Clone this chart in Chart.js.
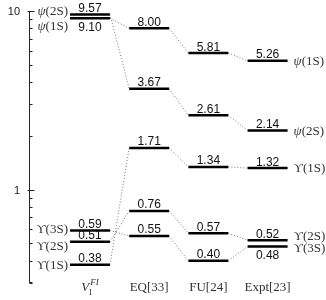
<!DOCTYPE html>
<html>
<head>
<meta charset="utf-8">
<script src="https://cdn.jsdelivr.net/npm/chart.js@4.4.1/dist/chart.umd.min.js"></script>
<style>
  html, body { margin: 0; padding: 0; background: #fff; }
  #wrap { width: 326px; height: 300px; }
</style>
</head>
<body>
<div id="wrap"><canvas id="chart"></canvas></div>
<script>
// columns (models) and level values
const columns = ['V1FI', 'EQ[33]', 'FU[24]', 'Expt[23]'];
const psi1S = [9.10, 8.00, 5.81, 5.26];
const psi2S = [9.57, 3.67, 2.61, 2.14];
const ups1S = [0.38, 1.71, 1.34, 1.32];
const ups2S = [0.51, 0.76, 0.57, 0.52];
const ups3S = [0.59, 0.55, 0.40, 0.48];
const majorTicks = [1, 10];
const minorTicks = [0.3, 0.4, 0.5, 0.6, 0.7, 0.8, 0.9, 2, 3, 4, 5, 6, 7, 8, 9];

const series = [
  { key: 'psi1S', psi: true,  name: '(1S)', values: psi1S },
  { key: 'psi2S', psi: true,  name: '(2S)', values: psi2S },
  { key: 'ups1S', psi: false, name: '(1S)', values: ups1S },
  { key: 'ups2S', psi: false, name: '(2S)', values: ups2S },
  { key: 'ups3S', psi: false, name: '(3S)', values: ups3S }
];

// layout tweaks (pixels), kept apart from the data
const HALF = 0.338;
const below = { psi1S: [0], ups3S: [3] };
const leftNudge = { psi1S: 8, psi2S: -3, ups1S: 1, ups2S: 5, ups3S: -1 };
const rightNudge = { psi1S: 1, psi2S: 1, ups1S: 1, ups2S: -4, ups3S: 2 };

const datasets = [];
series.forEach(s => {
  for (let i = 0; i < s.values.length - 1; i++) {
    datasets.push({
      data: [{ x: i + HALF, y: s.values[i] }, { x: i + 1 - HALF, y: s.values[i + 1] }],
      borderColor: '#777', borderWidth: 1, borderDash: [1, 2],
      pointRadius: 0, fill: false, tension: 0
    });
  }
});
series.forEach(s => {
  s.values.forEach((v, i) => {
    datasets.push({
      data: [{ x: i - HALF, y: v }, { x: i + HALF, y: v }],
      borderColor: '#000', borderWidth: 2.5, borderCapStyle: 'butt',
      pointRadius: 0, fill: false
    });
  });
});

function drawState(ctx, x, y, s, align) {
  const sym = s.psi ? 'ψ' : 'ϒ';
  const symFont = (s.psi ? 'italic ' : '') + '13px "Liberation Serif", "DejaVu Serif", serif';
  const txtFont = '13px "Liberation Serif", "DejaVu Serif", serif';
  ctx.font = symFont;
  const w1 = ctx.measureText(sym).width;
  ctx.font = txtFont;
  const w2 = ctx.measureText(s.name).width;
  const x0 = align === 'right' ? x - w1 - w2 : x;
  ctx.textAlign = 'left';
  ctx.font = symFont;
  ctx.fillText(sym, x0, y);
  ctx.font = txtFont;
  ctx.fillText(s.name, x0 + w1, y);
}

const overlay = {
  id: 'overlay',
  afterDatasetsDraw(chart) {
    const { ctx, scales: { x, y }, chartArea: a } = chart;
    ctx.save();
    // axis line and inward ticks
    ctx.strokeStyle = '#222';
    ctx.lineWidth = 1;
    const ax = Math.round(a.left) + 0.5;
    ctx.beginPath();
    ctx.moveTo(ax, a.top);
    ctx.lineTo(ax, a.bottom);
    majorTicks.forEach(t => {
      const py = Math.round(y.getPixelForValue(t)) + 0.5;
      ctx.moveTo(ax - 2, py); ctx.lineTo(ax + 5, py);
    });
    minorTicks.forEach(t => {
      const py = Math.round(y.getPixelForValue(t)) + 0.5;
      ctx.moveTo(ax, py); ctx.lineTo(ax + 3, py);
    });
    const pb = Math.round(a.bottom) - 0.5;
    ctx.moveTo(ax, pb); ctx.lineTo(ax + 3, pb);
    ctx.stroke();

    // y tick labels
    ctx.fillStyle = '#222';
    ctx.font = '11px "Liberation Sans", Arial, sans-serif';
    ctx.textAlign = 'right';
    ctx.textBaseline = 'middle';
    majorTicks.forEach(t => {
      ctx.fillText(String(t), a.left - 9, y.getPixelForValue(t) + 1);
    });

    // value labels over / under each level
    ctx.fillStyle = '#111';
    ctx.font = '12px "Liberation Sans", Arial, sans-serif';
    ctx.textAlign = 'center';
    series.forEach(s => {
      s.values.forEach((v, i) => {
        const px = x.getPixelForValue(i);
        const py = y.getPixelForValue(v);
        const under = (below[s.key] || []).includes(i);
        ctx.textBaseline = under ? 'top' : 'alphabetic';
        ctx.fillText(v.toFixed(2), px, under ? py + 3 : py - 2.5);
      });
    });

    // state names on the left and right
    ctx.fillStyle = '#333';
    ctx.textBaseline = 'middle';
    series.forEach(s => {
      const yl = y.getPixelForValue(s.values[0]) + leftNudge[s.key];
      drawState(ctx, x.getPixelForValue(-HALF) - 2, yl, s, 'right');
      const last = s.values.length - 1;
      const yr = y.getPixelForValue(s.values[last]) + rightNudge[s.key];
      drawState(ctx, x.getPixelForValue(last + HALF) + 6, yr, s, 'left');
    });

    // column names
    ctx.fillStyle = '#333';
    ctx.textBaseline = 'alphabetic';
    const base = a.bottom + 8;
    columns.forEach((c, i) => {
      const px = x.getPixelForValue(i);
      if (c === 'V1FI') {
        ctx.font = 'italic 13px "Liberation Serif", serif';
        const wv = ctx.measureText('V').width;
        ctx.font = 'italic 9px "Liberation Serif", serif';
        const wf = ctx.measureText('FI').width;
        const x0 = px - (wv + wf + 1) / 2;
        ctx.textAlign = 'left';
        ctx.font = 'italic 13px "Liberation Serif", serif';
        ctx.fillText('V', x0, base);
        ctx.font = '9px "Liberation Serif", serif';
        ctx.fillText('1', x0 + wv - 1, base + 4);
        ctx.font = 'italic 9px "Liberation Serif", serif';
        ctx.fillText('FI', x0 + wv + 1, base - 6);
      } else {
        ctx.textAlign = 'center';
        ctx.font = '13px "Liberation Serif", serif';
        ctx.fillText(c, px, base);
      }
    });
    ctx.restore();
  }
};

new Chart(document.getElementById('chart'), {
  type: 'line',
  data: { datasets },
  options: {
    responsive: true,
    maintainAspectRatio: false,
    animation: false,
    layout: { padding: { top: 11, bottom: 17, left: 0, right: 1 } },
    plugins: { legend: { display: false }, tooltip: { enabled: false } },
    scales: {
      x: { type: 'linear', min: -1.03, max: 3.97, display: false },
      y: {
        type: 'logarithmic', min: 0.3, max: 10,
        afterFit: s => { s.width = 29; },
        grid: { display: false },
        border: { display: false },
        ticks: { display: false }
      }
    }
  },
  plugins: [overlay]
});
</script>
</body>
</html>
